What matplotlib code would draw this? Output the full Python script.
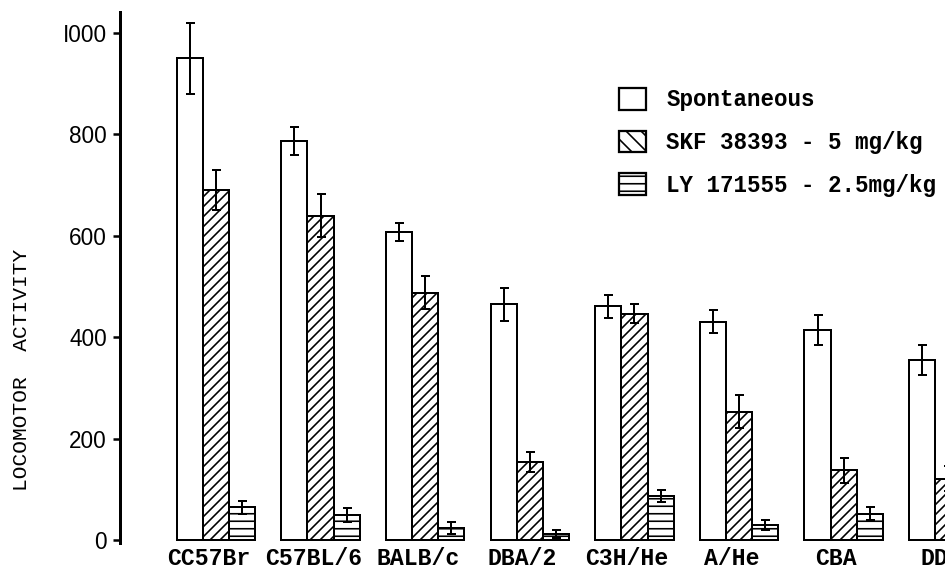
import numpy as np
import matplotlib
matplotlib.use("Agg")
import matplotlib.pyplot as plt
from matplotlib.patches import Patch

strains = ["CC57Br", "C57BL/6", "BALB/c", "DBA/2", "C3H/He", "A/He", "CBA", "DDD"]

spont = [950, 787, 607, 465, 461, 431, 415, 355]
spont_err = [70, 28, 18, 33, 22, 23, 30, 30]

skf = [690, 640, 488, 155, 447, 254, 138, 122]
skf_err = [40, 42, 33, 20, 18, 33, 25, 25]

ly = [65, 50, 24, 12, 88, 30, 53, 40]
ly_err = [12, 13, 12, 8, 12, 10, 12, 10]

yticks = [0, 200, 400, 600, 800, 1000]
ytick_labels = ["0", "200", "400", "600", "800", "I000"]

legend_labels = ["Spontaneous", "SKF 38393 - 5 mg/kg", "LY 171555 - 2.5mg/kg"]

plt.rcParams["hatch.color"] = "black"
plt.rcParams["hatch.linewidth"] = 1.3

fig = plt.figure(figsize=(10.5, 571 / 90), dpi=90)
# axes runs past the right edge of the figure, like the cropped scan
ax = fig.add_axes([120 / 945, 28 / 571, 933 / 945, 531 / 571])

x = np.arange(len(strains))
w = 0.25
ekw = dict(elinewidth=1.6, capthick=1.6, ecolor="black")

ax.bar(x - w, spont, w, yerr=spont_err, color="white", edgecolor="black",
       linewidth=1.6, capsize=3.6, error_kw=ekw)
ax.bar(x, skf, w, yerr=skf_err, color="white", edgecolor="black",
       linewidth=1.6, hatch="///", capsize=3.6, error_kw=ekw)
ax.bar(x + w, ly, w, yerr=ly_err, color="white", edgecolor="black",
       linewidth=1.6, hatch="--", capsize=3.6, error_kw=ekw)

ax.set_xlim(-0.917, 8.0)
ax.set_ylim(-5, 1041)

for s in ["top", "right", "bottom"]:
    ax.spines[s].set_visible(False)
ax.spines["left"].set_linewidth(2.4)

ax.set_yticks(yticks)
ax.set_yticklabels(ytick_labels, fontfamily="Liberation Sans", fontsize=18)
ax.tick_params(axis="y", direction="out", length=5.5, width=2, pad=5)

ax.set_xticks(x - 0.07)
ax.set_xticklabels(strains, fontfamily="Liberation Mono", fontweight="bold",
                   fontsize=18.5)
ax.tick_params(axis="x", length=0, pad=3)

fig.text(22 / 945, 1 - 370 / 571, "LOCOMOTOR  ACTIVITY", rotation=90,
         ha="center", va="center", fontfamily="Liberation Mono", fontsize=17)

handles = [
    Patch(facecolor="white", edgecolor="black", linewidth=1.8),
    Patch(facecolor="white", edgecolor="black", linewidth=1.8, hatch="\\\\"),
    Patch(facecolor="white", edgecolor="black", linewidth=1.8, hatch="--"),
]
ax.legend(handles, legend_labels, loc="upper left",
          bbox_to_anchor=(619 / 945, 1 - 88 / 571), bbox_transform=fig.transFigure,
          frameon=False, borderpad=0, borderaxespad=0,
          handlelength=1.2, handleheight=1.1, handletextpad=0.9,
          labelspacing=0.85,
          prop=dict(family="Liberation Mono", weight="bold", size=18))

fig.savefig("out.png", dpi=90)
